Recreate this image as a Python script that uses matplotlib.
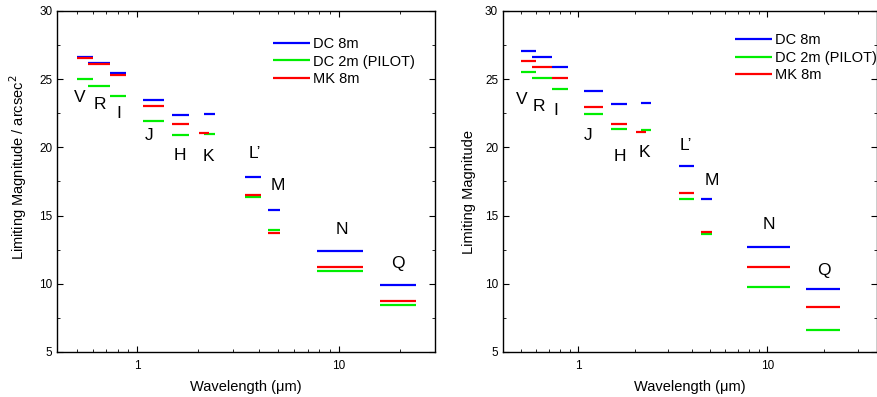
import matplotlib.pyplot as plt
from matplotlib.ticker import FixedLocator, LogLocator, MultipleLocator, NullFormatter

plt.rcParams['font.family'] = ['Liberation Sans', 'DejaVu Sans']

bands = ['V', 'R', 'I', 'J', 'H', 'K', 'L\u2019', 'M', 'N', 'Q']
# band edges in micron (DC series) and MK series (K band shifted)
wl_lo = [0.50, 0.57, 0.73, 1.07, 1.49, 2.15, 3.42, 4.43, 7.8, 16.0]
wl_hi = [0.60, 0.73, 0.88, 1.35, 1.81, 2.43, 4.10, 5.12, 13.1, 24.2]
mk_lo = [0.50, 0.57, 0.73, 1.07, 1.49, 2.03, 3.42, 4.43, 7.8, 16.0]
mk_hi = [0.60, 0.73, 0.88, 1.35, 1.81, 2.28, 4.10, 5.12, 13.1, 24.2]

# left panel: per arcsec^2
dc8_left = [26.65, 26.20, 25.42, 23.46, 22.40, 22.48, 17.82, 15.44, 12.40, 9.90]
dc2_left = [25.00, 24.53, 23.77, 21.94, 20.88, 20.96, 16.35, 13.92, 10.91, 8.43]
mk8_left = [26.55, 26.10, 25.30, 23.06, 21.74, 21.08, 16.53, 13.73, 11.20, 8.73]

# right panel: point source
dc8_right = [27.06, 26.64, 25.90, 24.14, 23.16, 23.26, 18.63, 16.18, 12.67, 9.61]
dc2_right = [25.51, 25.07, 24.31, 22.45, 21.37, 21.27, 16.25, 13.65, 9.78, 6.62]
mk8_right = [26.30, 25.86, 25.12, 22.99, 21.74, 21.10, 16.66, 13.82, 11.23, 8.31]

# band letter positions (x in micron, y in mag)
lab_left = [(0.52, 23.65), (0.65, 23.14), (0.81, 22.48), (1.14, 20.88), (1.63, 19.4),
            (2.25, 19.34), (3.84, 19.58), (4.99, 17.2), (10.3, 14.0), (19.7, 11.45)]
lab_right = [(0.50, 23.53), (0.62, 23.0), (0.76, 22.7), (1.13, 20.88), (1.65, 19.3),
             (2.23, 19.66), (3.70, 20.15), (5.08, 17.6), (10.2, 14.31), (19.9, 11.0)]

fig = plt.figure(figsize=(8.78, 3.97), dpi=100)
ax1 = fig.add_axes([0.065, 0.1134, 0.4305, 0.859])
ax2 = fig.add_axes([0.5729, 0.1134, 0.426, 0.859])

panels = [
    (ax1, dc8_left, dc2_left, mk8_left, lab_left, 'Limiting Magnitude / arcsec$^2$', 30,
     (0.571, 0.924), (-0.075, 0.543)),
    (ax2, dc8_right, dc2_right, mk8_right, lab_right, 'Limiting Magnitude', 38,
     (0.620, 0.935), (-0.073, 0.469)),
]

for ax, dc8, dc2, mk8, labs, ylab, xmax, leg_pos, ylab_pos in panels:
    ax.hlines(dc8, wl_lo, wl_hi, color='#0000ff', lw=1.6, label='DC 8m')
    ax.hlines(dc2, wl_lo, wl_hi, color='#00ee00', lw=1.6, label='DC 2m (PILOT)')
    ax.hlines(mk8, mk_lo, mk_hi, color='#ff0000', lw=1.6, label='MK 8m')
    for name, (x, y) in zip(bands, labs):
        ax.text(x, y, name, ha='center', va='center', fontsize=12.5)

    ax.set_xscale('log')
    ax.set_xlim(0.4, xmax)
    ax.set_ylim(5, 30)
    ax.xaxis.set_major_locator(FixedLocator([1, 10]))
    ax.set_xticklabels(['1', '10'])
    ax.xaxis.set_minor_locator(LogLocator(base=10, subs=range(2, 10)))
    ax.xaxis.set_minor_formatter(NullFormatter())
    ax.yaxis.set_major_locator(MultipleLocator(5))
    ax.yaxis.set_minor_locator(MultipleLocator(2.5))
    ax.tick_params(which='both', direction='in', top=True, right=True, labelsize=8.5)
    ax.tick_params(which='major', length=4)
    ax.tick_params(which='minor', length=2.5)
    ax.tick_params(axis='x', which='major', pad=5.5)
    for s in ax.spines.values():
        s.set_linewidth(1.0)

    ax.set_xlabel('Wavelength (\u03bcm)', fontsize=10.5, labelpad=6)
    ax.set_ylabel(ylab, fontsize=10.5)
    ax.yaxis.set_label_coords(*ylab_pos)

    ax.legend(loc='upper left', bbox_to_anchor=leg_pos, frameon=False, fontsize=10.5,
              borderpad=0, borderaxespad=0, handlelength=2.55, handletextpad=0.2,
              labelspacing=0.25)

fig.savefig('out.png', dpi=100)
